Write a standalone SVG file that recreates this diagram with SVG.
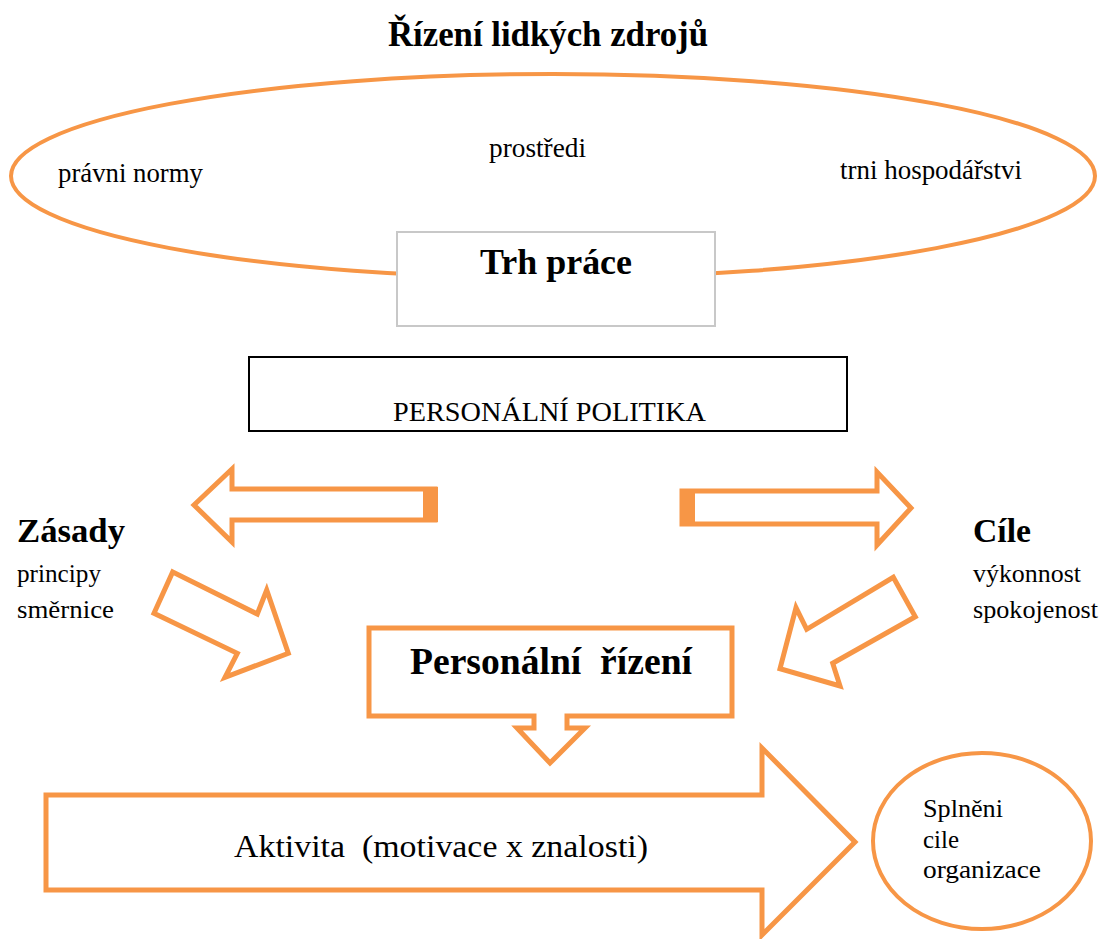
<svg xmlns="http://www.w3.org/2000/svg" width="1101" height="939" viewBox="0 0 1101 939">
<style>
  .o { fill: none; stroke: #F79646; stroke-width: 5; stroke-linejoin: miter; }
  .ow { fill: #ffffff; stroke: #F79646; stroke-width: 5; stroke-linejoin: miter; }
  .t { font-family: "Liberation Serif", "Times New Roman", serif; fill: #000000; white-space: pre; }
  .b { font-weight: bold; }
</style>
<rect x="0" y="0" width="1101" height="939" fill="#ffffff"/>

<g id="title">
  <text class="t b" x="388" y="46" font-size="35" textLength="320" lengthAdjust="spacingAndGlyphs">Řízení lidkých zdrojů</text>
</g>

<g id="environment">
  <ellipse cx="553" cy="176" rx="542" ry="102" fill="none" stroke="#F79646" stroke-width="4"/>
  <text class="t" x="58" y="182" font-size="28" textLength="145" lengthAdjust="spacingAndGlyphs">právni normy</text>
  <text class="t" x="489" y="157" font-size="28" textLength="97" lengthAdjust="spacingAndGlyphs">prostředi</text>
  <text class="t" x="840" y="179" font-size="28" textLength="182" lengthAdjust="spacingAndGlyphs">trni hospodářstvi</text>
</g>

<g id="trh-prace">
  <rect x="397" y="232" width="318" height="94" fill="#ffffff" stroke="#c8c8c8" stroke-width="2"/>
  <text class="t b" x="480" y="274" font-size="36" textLength="152" lengthAdjust="spacingAndGlyphs">Trh práce</text>
</g>

<g id="personalni-politika">
  <rect x="249" y="357" width="598" height="74" fill="#ffffff" stroke="#000000" stroke-width="2"/>
  <text class="t" x="393" y="421" font-size="27" textLength="313" lengthAdjust="spacingAndGlyphs">PERSONÁLNÍ POLITIKA</text>
</g>

<g id="zasady">
  <text class="t b" x="17" y="542" font-size="33" textLength="108" lengthAdjust="spacingAndGlyphs">Zásady</text>
  <text class="t" x="17" y="582" font-size="25" textLength="84" lengthAdjust="spacingAndGlyphs">principy</text>
  <text class="t" x="17" y="618" font-size="25" textLength="97" lengthAdjust="spacingAndGlyphs">směrnice</text>
</g>

<g id="cile">
  <text class="t b" x="973" y="542" font-size="33" textLength="58" lengthAdjust="spacingAndGlyphs">Cíle</text>
  <text class="t" x="973" y="582" font-size="25" textLength="108" lengthAdjust="spacingAndGlyphs">výkonnost</text>
  <text class="t" x="973" y="618" font-size="25" textLength="125" lengthAdjust="spacingAndGlyphs">spokojenost</text>
</g>

<g id="connectors">
  <!-- to Zásady -->
  <polygon class="o" points="435,489 232,489 232,469 194,505 232,542 232,520 435,520"/>
  <rect x="423" y="487" width="15" height="35" fill="#F79646"/>
  <!-- to Cíle -->
  <polygon class="o" points="682,491 877,491 877,472 911,508 877,545 877,524 682,524"/>
  <rect x="680" y="489" width="15" height="37" fill="#F79646"/>
  <!-- Zásady to Personální řízení -->
  <polygon class="o" points="172.7,572 257.3,614 266.7,590 288.3,653.3 225,677.3 237.3,653.3 154,613.3"/>
  <!-- Cíle to Personální řízení -->
  <polygon class="o" points="893.3,577.3 915.3,616.7 832.7,663.3 840,686 780,668.7 796,607.7 806.7,629.3"/>
  <!-- Aktivita arrow -->
  <path class="o" d="M46,795 H762 V748 L855,842 L762,935 V890 H46 Z"/>
</g>

<g id="personalni-rizeni">
  <path class="ow" d="M369,628 H732 V716 H567 V728 H585 L550,763 L517,728 H534 V716 H369 Z"/>
  <text class="t b" x="410" y="674" font-size="38" textLength="282" lengthAdjust="spacingAndGlyphs">Personální  řízení</text>
</g>

<g id="aktivita">
  <text class="t" x="234" y="857" font-size="31" textLength="414" lengthAdjust="spacingAndGlyphs">Aktivita  (motivace x znalosti)</text>
</g>

<g id="splneni">
  <ellipse cx="982" cy="841" rx="109" ry="88" fill="none" stroke="#F79646" stroke-width="4"/>
  <text class="t" x="923" y="817" font-size="25" textLength="80" lengthAdjust="spacingAndGlyphs">Splněni</text>
  <text class="t" x="923" y="848" font-size="25" textLength="36" lengthAdjust="spacingAndGlyphs">cile</text>
  <text class="t" x="923" y="878" font-size="25" textLength="118" lengthAdjust="spacingAndGlyphs">organizace</text>
</g>
</svg>
